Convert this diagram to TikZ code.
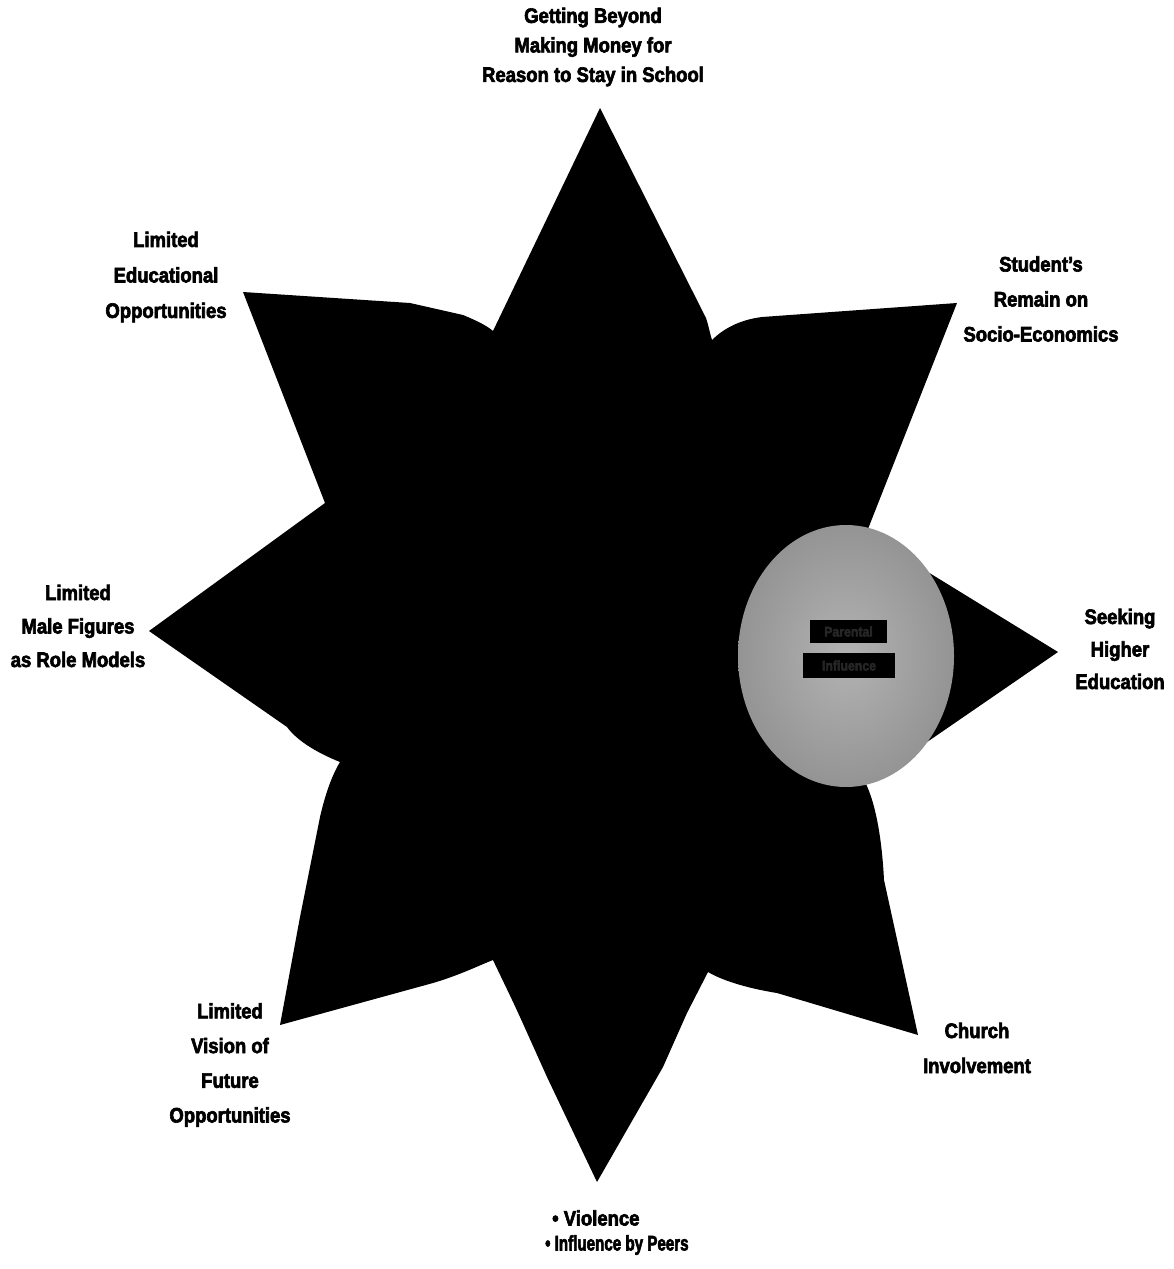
\documentclass[tikz,border=0pt]{standalone}
\usepackage{fontspec}
\newfontfamily\labfont{Liberation Sans}[FakeStretch=0.88,BoldFeatures={FakeBold=3}]
\tikzset{
  lab/.style={font=\labfont\bfseries\fontsize{21}{#1}\selectfont, align=center, inner sep=0pt, text=black},
  barbox/.style={fill=black, inner sep=0pt, text=black!85, font=\labfont\bfseries\fontsize{14}{16}\selectfont},
  starfill/.style={fill=black},
}
\begin{document}
\begin{tikzpicture}[x=1pt,y=-1pt]
\useasboundingbox (0,0) rectangle (1174,1269);
% eight-pointed star / flower silhouette
\path[starfill] (600,108) -- (706,318) .. controls (709,327) and (710,334) .. (712,340)
 .. controls (722,330) and (738,320) .. (762,317) -- (957,303)
 -- (866,534) -- (1058,652) -- (866,784)
 .. controls (876,805) and (882,840) .. (884,880) -- (918,1035)
 -- (777,993) .. controls (752,989) and (725,982) .. (708,972)
 -- (687,1013) -- (663,1067) -- (597,1182)
 -- (547,1077) -- (520,1017) .. controls (510,995) and (500,975) .. (493,960)
 .. controls (480,965) and (460,975) .. (433,983) -- (280,1025)
 -- (300,917) -- (320,817) .. controls (325,795) and (332,775) .. (340,762)
 .. controls (320,754) and (298,742) .. (287,727) -- (149,631)
 -- (325,503) -- (243,292) -- (410,303) -- (463,315)
 .. controls (475,320) and (486,325) .. (493,331) -- cycle;
% grey disc
\shade[inner color=black!30, outer color=black!42] (846,656) ellipse [x radius=108pt, y radius=131pt];
\node[barbox, minimum width=77pt, minimum height=23pt] (pa) at (848.5,631.5) {Parental};
\node[barbox, minimum width=92pt, minimum height=25pt] (pb) at (849,665.5) {Influence};
% labels
\node[lab=29.5] (t1) at (593,47) {Getting Beyond\\Making Money for\\Reason to Stay in School};
\node[lab=35.5] (t2) at (166,277) {Limited\\Educational\\Opportunities};
\node[lab=35] (t3) at (1041,299) {Student’s\\Remain on\\Socio-Economics};
\node[lab=33.5] (t4) at (78,626) {Limited\\Male Figures\\as Role Models};
\node[lab=32.5] (t5) at (1120,649) {Seeking\\Higher\\Education};
\node[lab=35] (t6) at (977,1048) {Church\\Involvement};
\node[lab=34.7] (t7) at (230,1065) {Limited\\Vision of\\Future\\Opportunities};
\node[lab=27, anchor=west] (t8) at (552,1218) {• Violence};
\node[lab=27, anchor=west] (t9) at (545,1245) {\scalebox{0.82}[1]{• Influence by Peers}};
\end{tikzpicture}
\end{document}
